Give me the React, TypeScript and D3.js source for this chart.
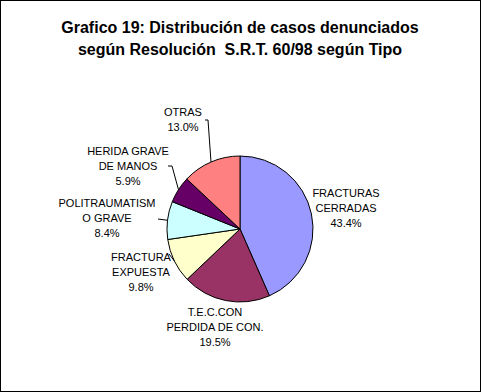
import * as d3 from "d3";

const categories = [
  ["FRACTURAS", "CERRADAS"],
  ["T.E.C.CON", "PERDIDA DE CON."],
  ["FRACTURA", "EXPUESTA"],
  ["POLITRAUMATISM", "O GRAVE"],
  ["HERIDA GRAVE", "DE MANOS"],
  ["OTRAS"],
];
const values = [43.4, 19.5, 9.8, 8.4, 5.9, 13.0];
const colors = ["#9999FF", "#993366", "#FFFFCC", "#CCFFFF", "#660066", "#FF8080"];

// label block centre (x, y of first line) and leader start, in px
const labelPos: { x: number; y: number; lead?: [number, number][] }[] = [
  { x: 346, y: 193 },
  { x: 215, y: 312 },
  { x: 141, y: 257, lead: [[169, 254]] },
  { x: 107, y: 203, lead: [[158, 219]] },
  { x: 128, y: 151, lead: [[168, 166], [172, 166]] },
  { x: 183, y: 112, lead: [[205, 120], [208, 120]] },
];

const W = 481;
const H = 392;
const cx = 240;
const cy = 229;
const R = 73;

export default function App() {
  const pie = d3
    .pie<number>()
    .sort(null)
    .value((d) => d);
  const arcs = pie(values);
  const arc = d3.arc<d3.PieArcDatum<number>>().innerRadius(0).outerRadius(R);

  const edge = (a: d3.PieArcDatum<number>): [number, number] => {
    const m = (a.startAngle + a.endAngle) / 2;
    return [cx + R * Math.sin(m), cy - R * Math.cos(m)];
  };

  return (
    <svg
      width={W}
      height={H}
      style={{ position: "absolute", left: 0, top: 0, background: "#fff" }}
      fontFamily="Arial, 'Liberation Sans', sans-serif"
    >
      <rect x={0.5} y={0.5} width={W - 1} height={H - 1} fill="#fff" stroke="#000" />
      <text x={240} y={33} textAnchor="middle" fontWeight="bold" fontSize={16}>
        Grafico 19: Distribución de casos denunciados
      </text>
      <text x={240} y={55} textAnchor="middle" fontWeight="bold" fontSize={16}>
        según Resolución{"\u00a0"} S.R.T. 60/98 según Tipo
      </text>
      <g transform={`translate(${cx},${cy})`}>
        {arcs.map((a, i) => (
          <path key={i} d={arc(a) ?? ""} fill={colors[i]} stroke="#000" strokeWidth={1} />
        ))}
      </g>
      {arcs.map((a, i) => {
        const p = labelPos[i];
        if (!p.lead) return null;
        const pts = [...p.lead, edge(a)];
        return (
          <path
            key={"l" + i}
            d={d3.line()(pts) ?? ""}
            fill="none"
            stroke="#000"
            strokeWidth={1}
          />
        );
      })}
      {arcs.map((a, i) => {
        const p = labelPos[i];
        const lines = [...categories[i], values[i].toFixed(1) + "%"];
        return (
          <text key={"t" + i} textAnchor="middle" fontSize={11} dominantBaseline="central">
            {lines.map((s, j) => (
              <tspan key={j} x={p.x} y={p.y + j * 15}>
                {s}
              </tspan>
            ))}
          </text>
        );
      })}
    </svg>
  );
}
